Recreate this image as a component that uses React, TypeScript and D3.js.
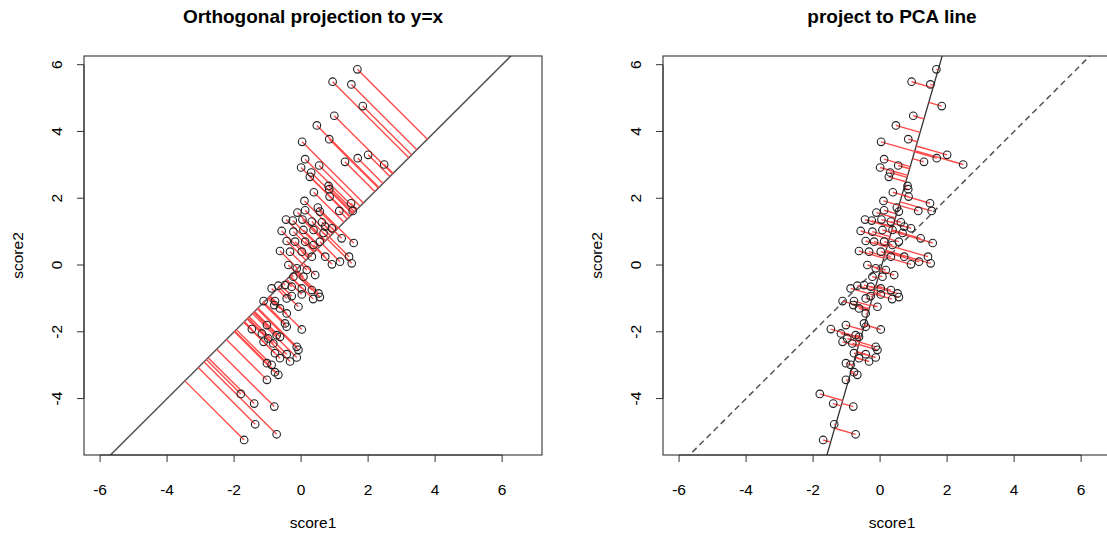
import React from "react";
import * as d3 from "d3";

const score1 = [
  1.68, 0.94, 1.5, 1.84, 0.99, 0.47, 0.03, 0.84, 0.12, 0.0, 0.54, 0.3, 0.26, 1.31, 1.69, 2.0, 2.48,
  0.82, 0.84, 0.85, 0.38, 1.49, 0.1, 0.5, 0.56, -0.11, 0.12, 1.14, 1.54,
  -0.45, -0.25, 0.04, 0.32, 0.62, 0.92, 0.72, -0.58, -0.23, 0.07, 0.37, 0.67, 1.21, 1.57,
  -0.43, -0.18, 0.12, 0.56, 0.37, -0.63, -0.33, 0.02, 0.32, 0.72, 1.43, 0.92, 1.16, 1.51,
  -0.38, -0.13, 0.17, 0.42, -0.23, 0.07, -0.88, -0.68, -0.48, -0.28, 0.02, 0.32, 0.52,
  -1.12, -0.78, -0.43, -0.28, 0.02, 0.36, 0.56, -0.8, -0.63, -0.43, -0.08, -0.48, -0.43,
  -1.02, -1.47, 0.02, -1.17, -0.98, -0.73, -1.12, -0.83, -0.63, -0.13, -0.08, -0.78, -0.63,
  -0.43, -0.33, -0.13, -1.02, -0.88, -0.78, -1.02, -0.68, -1.8, -1.4, -0.8, -1.37, -0.73, -1.7,
];
const score2 = [
  5.86, 5.49, 5.41, 4.76, 4.47, 4.18, 3.69, 3.77, 3.17, 2.92, 2.98, 2.77, 2.64, 3.09, 3.2, 3.3, 3.01,
  2.37, 2.27, 2.05, 2.18, 1.85, 1.92, 1.72, 1.6, 1.57, 1.64, 1.62, 1.62,
  1.36, 1.33, 1.36, 1.3, 1.28, 1.1, 1.15, 1.02, 1.0, 1.05, 1.05, 0.96, 0.8, 0.66,
  0.72, 0.7, 0.7, 0.7, 0.6, 0.42, 0.4, 0.4, 0.25, 0.25, 0.25, 0.02, 0.1, 0.05,
  0.0, -0.1, -0.15, -0.3, -0.35, -0.35, -0.7, -0.62, -0.6, -0.65, -0.7, -0.75, -0.85,
  -1.08, -1.08, -1.0, -0.93, -0.88, -1.02, -0.96, -1.2, -1.3, -1.45, -1.25, -1.75, -1.85,
  -1.8, -1.92, -1.93, -2.05, -2.2, -2.1, -2.3, -2.35, -2.15, -2.45, -2.54, -2.64, -2.79,
  -2.67, -2.89, -2.77, -2.94, -2.99, -3.21, -3.44, -3.29, -3.86, -4.15, -4.24, -4.77, -5.07, -5.24,
];

const xTicks = [-6, -4, -2, 0, 2, 4, 6];
const yTicks = [-4, -2, 0, 2, 4, 6];
const xLim = [-6.48, 7.19];
const yLim = [-5.69, 6.26];
const titles = ["Orthogonal projection to y=x", "project to PCA line"];
const xLabel = "score1";
const yLabel = "score2";

const W = 1107;
const H = 533;
const FONT = "'Liberation Sans', Arial, Helvetica, sans-serif";

type Pt = [number, number];

function pcaLine(xs: number[], ys: number[]) {
  const n = xs.length;
  const mx = d3.mean(xs) as number;
  const my = d3.mean(ys) as number;
  let sxx = 0, syy = 0, sxy = 0;
  for (let i = 0; i < n; i++) {
    const dx = xs[i] - mx, dy = ys[i] - my;
    sxx += dx * dx; syy += dy * dy; sxy += dx * dy;
  }
  const theta = 0.5 * Math.atan2(2 * sxy, sxx - syy);
  return { mx, my, vx: Math.cos(theta), vy: Math.sin(theta) };
}

function Panel({ x0, x1, y0, y1, idx }: { x0: number; x1: number; y0: number; y1: number; idx: number }) {
  const x = d3.scaleLinear().domain(xLim).range([x0, x1]);
  const y = d3.scaleLinear().domain(yLim).range([y1, y0]);
  const pts: Pt[] = score1.map((v, i) => [v, score2[i]]);
  const clipId = `clip${idx}`;
  const pca = pcaLine(score1, score2);

  const proj: Pt[] = pts.map(([a, b]) => {
    if (idx === 0) {
      const m = (a + b) / 2;
      return [m, m];
    }
    const t = (a - pca.mx) * pca.vx + (b - pca.my) * pca.vy;
    return [pca.mx + t * pca.vx, pca.my + t * pca.vy];
  });

  const big = 50;
  const idLine: [Pt, Pt] = [[-big, -big], [big, big]];
  const pcaSeg: [Pt, Pt] = [
    [pca.mx - big * pca.vx, pca.my - big * pca.vy],
    [pca.mx + big * pca.vx, pca.my + big * pca.vy],
  ];
  const cx = (x0 + x1) / 2;
  const cy = (y0 + y1) / 2;

  return (
    <g>
      <defs>
        <clipPath id={clipId}>
          <rect x={x0} y={y0} width={x1 - x0} height={y1 - y0} />
        </clipPath>
      </defs>
      <text x={cx} y={23} textAnchor="middle" fontWeight="bold" fontSize={19} fontFamily={FONT} fill="#000">
        {titles[idx]}
      </text>
      <g clipPath={`url(#${clipId})`}>
        {idx === 0 ? (
          <line x1={x(idLine[0][0])} y1={y(idLine[0][1])} x2={x(idLine[1][0])} y2={y(idLine[1][1])} stroke="#555" strokeWidth={1.5} />
        ) : (
          <>
            <line x1={x(idLine[0][0])} y1={y(idLine[0][1])} x2={x(idLine[1][0])} y2={y(idLine[1][1])} stroke="#555" strokeWidth={1.5} strokeDasharray="6,4" />
            <line x1={x(pcaSeg[0][0])} y1={y(pcaSeg[0][1])} x2={x(pcaSeg[1][0])} y2={y(pcaSeg[1][1])} stroke="#333" strokeWidth={1.3} />
          </>
        )}
        {pts.map((p, i) => (
          <line key={`s${i}`} x1={x(p[0])} y1={y(p[1])} x2={x(proj[i][0])} y2={y(proj[i][1])} stroke="#ff4a4a" strokeWidth={1.4} />
        ))}
        {pts.map((p, i) => (
          <circle key={`c${i}`} cx={x(p[0])} cy={y(p[1])} r={3.8} fill="none" stroke="#222" strokeWidth={1.1} />
        ))}
      </g>
      <rect x={x0} y={y0} width={x1 - x0} height={y1 - y0} fill="none" stroke="#333" strokeWidth={1.1} />
      <line x1={x(xTicks[0])} x2={x(xTicks[xTicks.length - 1])} y1={y1} y2={y1} stroke="#333" />
      {xTicks.map((t) => (
        <g key={`xt${t}`}>
          <line x1={x(t)} x2={x(t)} y1={y1} y2={y1 + 7} stroke="#333" />
          <text x={x(t)} y={495} textAnchor="middle" fontSize={15.5} fontFamily={FONT} fill="#000">
            {t}
          </text>
        </g>
      ))}
      <line x1={x0} x2={x0} y1={y(yTicks[0])} y2={y(yTicks[yTicks.length - 1])} stroke="#333" />
      {yTicks.map((t) => (
        <g key={`yt${t}`}>
          <line x1={x0} x2={x0 - 7} y1={y(t)} y2={y(t)} stroke="#333" />
          <text transform={`translate(${x0 - 22},${y(t)}) rotate(-90)`} textAnchor="middle" fontSize={15.5} fontFamily={FONT} fill="#000">
            {t}
          </text>
        </g>
      ))}
      <text x={cx} y={528} textAnchor="middle" fontSize={15.5} fontFamily={FONT} fill="#000">
        {xLabel}
      </text>
      <text transform={`translate(${x0 - 61},${cy}) rotate(-90)`} textAnchor="middle" fontSize={15.5} fontFamily={FONT} fill="#000">
        {yLabel}
      </text>
    </g>
  );
}

export default function App() {
  return (
    <svg width={W} height={H} style={{ position: "absolute", left: 0, top: 0, background: "#fff" }}>
      <rect width={W} height={H} fill="#fff" />
      <Panel x0={84} x1={542} y0={56} y1={455} idx={0} />
      <Panel x0={663} x1={1121} y0={56} y1={455} idx={1} />
    </svg>
  );
}
